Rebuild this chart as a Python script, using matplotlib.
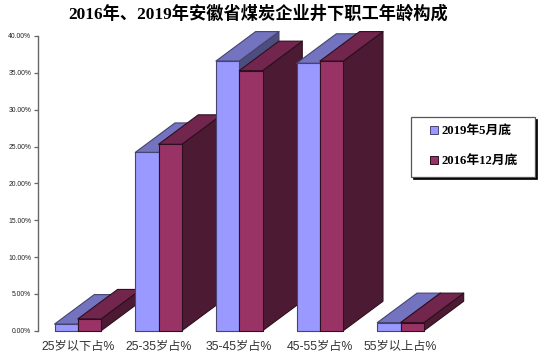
# -*- coding: utf-8 -*-
"""
Fake 3D grouped bars, age structure of underground coal mine workers
"""

import matplotlib
matplotlib.use("Agg")
import matplotlib.pyplot as plt

from matplotlib.patches import Patch, Polygon, Rectangle

categories = ["25岁以下占%", "25-35岁占%", "35-45岁占%", "45-55岁占%", "55岁以上占%"]
values_2019 = [0.9, 24.2, 36.6, 36.3, 1.1]
values_2016 = [1.6, 25.3, 35.3, 36.6, 1.1]
series_names = ["2019年5月底", "2016年12月底"]
y_ticks = [0, 5, 10, 15, 20, 25, 30, 35, 40]

SANS = ["Liberation Sans", "Noto Sans CJK SC"]
SERIF = ["Liberation Serif", "Noto Sans CJK SC"]

BAR_W = 0.289
DEPTH_X = 0.492
DEPTH_Y = 4.0

# front, top, side, edge
COLORS_2019 = ("#9999ff", "#7373bf", "#4d4d80", "#45456f")
COLORS_2016 = ("#993366", "#73264d", "#4d1a33", "#2e0f1f")


def draw_bar(ax, left, height, colors, zorder):
    right = left + BAR_W
    front, top, side, edge = colors
    faces = [
        (side, [(right, 0), (right + DEPTH_X, DEPTH_Y),
                (right + DEPTH_X, height + DEPTH_Y), (right, height)]),
        (top, [(left, height), (right, height),
               (right + DEPTH_X, height + DEPTH_Y), (left + DEPTH_X, height + DEPTH_Y)]),
        (front, [(left, 0), (right, 0), (right, height), (left, height)]),
    ]
    for color, points in faces:
        ax.add_patch(Polygon(points, closed=True, facecolor=color, edgecolor=edge,
                             linewidth=0.8, joinstyle="round", clip_on=False, zorder=zorder))


"""
Box with a hard shadow behind the legend, pixel values from the top left
"""
def legend_box(fig, x, y, w, h):
    px_w, px_h = 547, 359
    fig.add_artist(Rectangle(((x + 2) / px_w, 1 - (y + h + 2) / px_h), w / px_w, h / px_h,
                             transform=fig.transFigure, facecolor="black", edgecolor="black",
                             linewidth=0.5, zorder=20))
    fig.add_artist(Rectangle((x / px_w, 1 - (y + h) / px_h), w / px_w, h / px_h,
                             transform=fig.transFigure, facecolor="white", edgecolor="#555555",
                             linewidth=0.9, zorder=21))


def main():
    fig = plt.figure(figsize=(5.47, 3.59), dpi=100, facecolor="white")
    ax = fig.add_axes([37.5 / 547, 1 - 330.7 / 359, 403.5 / 547, 294.7 / 359])

    for i in range(len(categories)):
        draw_bar(ax, i - BAR_W, values_2019[i], COLORS_2019, 3 + i * 2)
        draw_bar(ax, i, values_2016[i], COLORS_2016, 4 + i * 2)

    ax.set_xlim(-0.5, 4.5)
    ax.set_ylim(0, 40)

    ax.set_yticks(y_ticks)
    ax.set_yticklabels(["{:.2f}%".format(t) for t in y_ticks], family=SANS,
                       fontsize=4.9, color="#222222")
    ax.tick_params(axis="y", length=3, width=0.9, color="#666666", pad=1.5)

    ax.set_xticks(range(len(categories)))
    ax.set_xticklabels(categories, family=SANS, fontsize=8.8, color="#333333")
    ax.tick_params(axis="x", length=0, pad=7.6)

    for name in ["top", "right", "bottom"]:
        ax.spines[name].set_visible(False)
    ax.spines["left"].set_color("#666666")
    ax.spines["left"].set_linewidth(1.0)

    fig.text(258 / 547, 1 - 14 / 359, "2016年、2019年安徽省煤炭企业井下职工年龄构成",
             family=SERIF, fontsize=12.4, fontweight="bold", color="black",
             ha="center", va="center")

    legend_box(fig, 410.5, 117, 124.5, 59.5)

    handles = [Patch(facecolor=COLORS_2019[0], edgecolor=COLORS_2019[3], linewidth=0.7),
               Patch(facecolor=COLORS_2016[0], edgecolor=COLORS_2016[3], linewidth=0.7)]
    legend = fig.legend(handles, series_names, loc="upper left",
                        bbox_to_anchor=(430 / 547, 1 - 125.5 / 359),
                        bbox_transform=fig.transFigure,
                        prop={"family": SERIF, "size": 9.2, "weight": "bold"},
                        frameon=False, borderaxespad=0, borderpad=0,
                        handlelength=0.6, handleheight=0.6,
                        handletextpad=0.3, labelspacing=1.41)
    legend.set_zorder(30)

    plt.savefig("out.png", dpi=100)


if __name__ == "__main__":
    main()
